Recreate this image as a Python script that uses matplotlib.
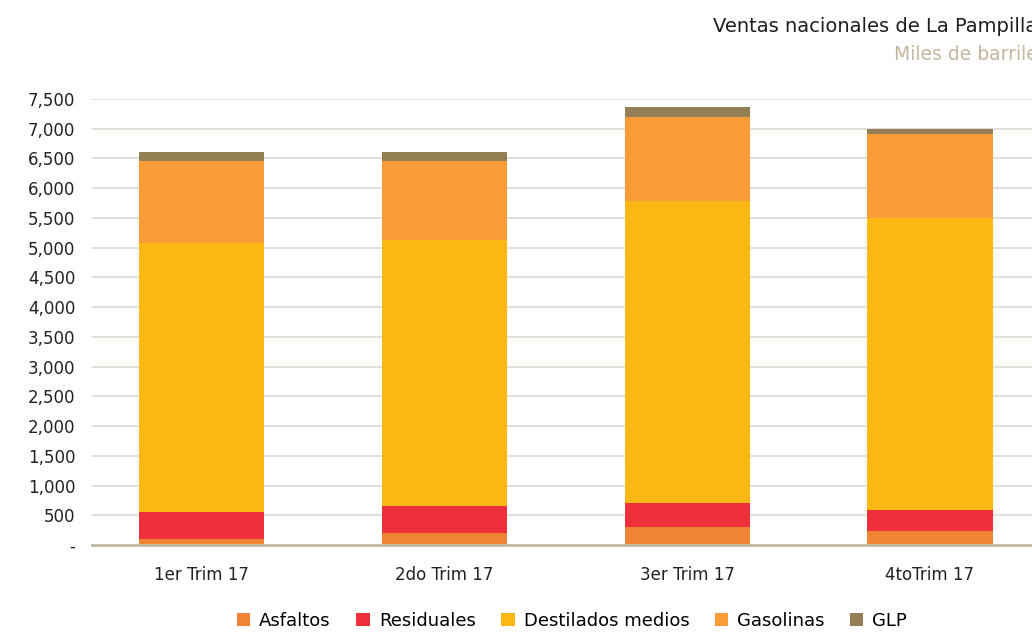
import numpy as np
import matplotlib.pyplot as plt
import matplotlib

matplotlib.rcParams['font.family'] = ['DejaVu Sans']

# Values (miles de barriles)
categories = ['1er Trim 17', '2do Trim 17', '3er Trim 17', '4toTrim 17']
series_names = ['Asfaltos', 'Residuales', 'Destilados medios', 'Gasolinas', 'GLP']
asfaltos = [106, 207, 308, 241]
residuales = [455, 443, 405, 354]
destilados = [4516, 4478, 5072, 4903]
gasolinas = [1382, 1331, 1415, 1416]
glp = [151, 151, 169, 84]
yticks = list(range(0, 8000, 500))

colors = ['#f18335', '#ee303d', '#fbb813', '#f99c38', '#947f55']

fig = plt.figure(figsize=(10.32, 6.32), dpi=100)
ax = fig.add_axes([92 / 1032, 87 / 632, 940 / 1032, 446 / 632])

x = np.arange(len(categories))
bottom = np.zeros(len(categories))
for name, vals, c in zip(series_names, [asfaltos, residuales, destilados, gasolinas, glp], colors):
    ax.bar(x, vals, width=0.515, bottom=bottom, color=c, label=name, zorder=3)
    bottom += np.array(vals)

ax.set_xlim(-0.45, 3.42)
ax.set_ylim(0, 7500)
ax.set_yticks(yticks)
ax.set_yticklabels(['-'] + [f'{v:,}' for v in yticks[1:]])
ax.set_xticks(x)
ax.set_xticklabels(categories)

# horizontal gridlines
for v in yticks[1:]:
    ax.axhline(v, color='#e0dbd3', lw=1.3, zorder=1)

for s in ['top', 'right', 'left']:
    ax.spines[s].set_visible(False)
ax.spines['bottom'].set_color('#c3b8a4')
ax.spines['bottom'].set_linewidth(2)
ax.spines['bottom'].set_zorder(4)
ax.tick_params(axis='both', length=0, labelsize=12, colors='#222222')
ax.tick_params(axis='y', pad=12)
ax.tick_params(axis='x', pad=15)

# title sits partly outside the canvas, as in the original
fig.text(713 / 1032, 1 - 26 / 632, 'Ventas nacionales de La Pampilla', ha='left', va='center',
         fontsize=14, color='#1e1e1e')
fig.text(894 / 1032, 1 - 55 / 632, 'Miles de barriles', ha='left', va='center',
         fontsize=13.5, color='#c4b69e')

fig.legend(loc='center', bbox_to_anchor=(572 / 1032, 1 - 621 / 632), ncol=5, frameon=False,
           fontsize=13, handlelength=0.75, handleheight=0.75, handletextpad=0.5,
           columnspacing=1.4)

fig.savefig('out.png', dpi=100)
